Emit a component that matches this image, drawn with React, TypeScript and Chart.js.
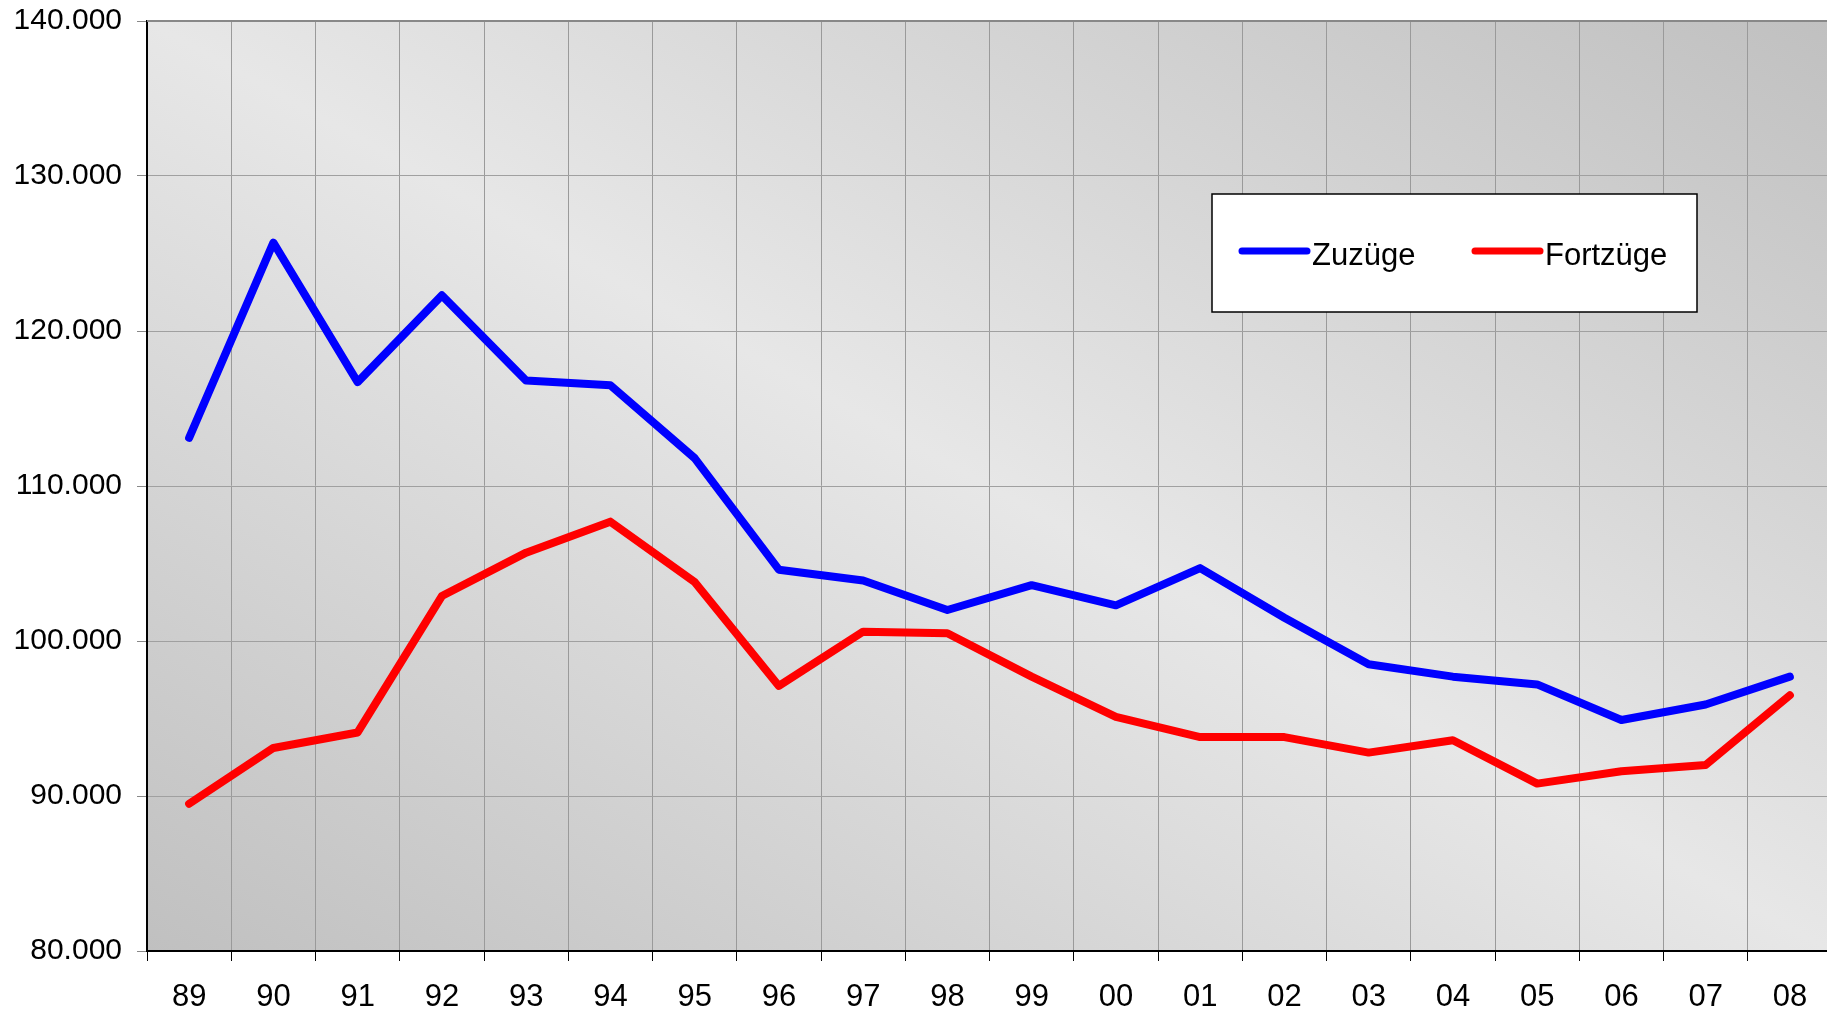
import React, { useEffect, useRef } from "react";
import { Chart, registerables } from "chart.js";

Chart.register(...registerables);

const categories = ["89", "90", "91", "92", "93", "94", "95", "96", "97", "98", "99", "00", "01", "02", "03", "04", "05", "06", "07", "08"];
const zuzuege = [113100, 125700, 116700, 122300, 116800, 116500, 111800, 104600, 103900, 102000, 103600, 102300, 104700, 101500, 98500, 97700, 97200, 94900, 95900, 97700];
const fortzuege = [89500, 93100, 94100, 102900, 105700, 107700, 103800, 97100, 100600, 100500, 97700, 95100, 93800, 93800, 92800, 93600, 90800, 91600, 92000, 96500];
const seriesLabels = ["Zuzüge", "Fortzüge"];
const seriesColors = ["#0000ff", "#ff0000"];
const yMin = 80000;
const yMax = 140000;
const yStep = 10000;

const FONT = "'Liberation Sans', Arial, sans-serif";

function formatDE(v: number): string {
  const s = Math.round(v).toString();
  return s.replace(/\B(?=(\d{3})+(?!\d))/g, ".");
}

const bgPlugin = {
  id: "bgPlugin",
  beforeDraw(chart: any) {
    const { ctx, chartArea } = chart;
    const { left, top, right, bottom } = chartArea;
    const W = right - left;
    const H = bottom - top;
    const cx = left + W / 2;
    const cy = top + H / 2;
    const norm = Math.sqrt(W * W + H * H);
    const dx = H / norm;
    const dy = -W / norm;
    const k = (W * H) / norm;
    const g = ctx.createLinearGradient(cx - k * dx, cy - k * dy, cx + k * dx, cy + k * dy);
    g.addColorStop(0, "#c0c0c0");
    g.addColorStop(0.5, "#e7e7e7");
    g.addColorStop(1, "#c0c0c0");
    ctx.save();
    ctx.fillStyle = g;
    ctx.fillRect(left, top, W, H);
    ctx.restore();
  },
  afterDraw(chart: any) {
    const { ctx, chartArea } = chart;
    ctx.save();
    ctx.strokeStyle = "#888888";
    ctx.lineWidth = 2;
    ctx.beginPath();
    ctx.moveTo(chartArea.left, chartArea.top);
    ctx.lineTo(chartArea.right, chartArea.top);
    ctx.stroke();

    // legend box
    const bx = 1212, by = 194, bw = 485, bh = 118;
    ctx.fillStyle = "#ffffff";
    ctx.fillRect(bx, by, bw, bh);
    ctx.strokeStyle = "#000000";
    ctx.lineWidth = 1.5;
    ctx.strokeRect(bx, by, bw, bh);
    const items = chart.data.datasets.map((d: any) => ({ label: d.label, color: d.borderColor }));
    const itemX = [1242, 1475];
    ctx.font = `31px ${FONT}`;
    ctx.textBaseline = "alphabetic";
    ctx.textAlign = "left";
    items.forEach((it: any, i: number) => {
      const x0 = itemX[i];
      ctx.strokeStyle = it.color;
      ctx.lineWidth = 7;
      ctx.lineCap = "round";
      ctx.beginPath();
      ctx.moveTo(x0, 251);
      ctx.lineTo(x0 + 65, 251);
      ctx.stroke();
      ctx.fillStyle = "#000000";
      ctx.fillText(it.label, x0 + 70, 264.5);
    });
    ctx.restore();
  },
};

export default function App() {
  const ref = useRef<HTMLCanvasElement>(null);
  useEffect(() => {
    if (!ref.current) return;
    const chart = new Chart(ref.current, {
      type: "line",
      data: {
        labels: categories,
        datasets: [
          {
            label: seriesLabels[0],
            data: zuzuege,
            borderColor: seriesColors[0],
            backgroundColor: seriesColors[0],
            borderWidth: 8,
            pointRadius: 0,
            tension: 0,
            borderJoinStyle: "round",
            borderCapStyle: "round",
          },
          {
            label: seriesLabels[1],
            data: fortzuege,
            borderColor: seriesColors[1],
            backgroundColor: seriesColors[1],
            borderWidth: 8,
            pointRadius: 0,
            tension: 0,
            borderJoinStyle: "round",
            borderCapStyle: "round",
          },
        ],
      },
      options: {
        responsive: false,
        animation: false,
        layout: { padding: { top: 21, right: 8, left: 0, bottom: 0 } },
        plugins: {
          legend: { display: false },
          tooltip: { enabled: false },
        },
        scales: {
          x: {
            offset: true,
            grid: {
              offset: true,
              color: "#9a9a9a",
              lineWidth: 1,
              tickLength: 10,
              tickColor: "#000000",
            },
            border: { color: "#000000", width: 2 },
            ticks: {
              color: "#000000",
              font: { family: FONT, size: 31 },
              padding: 18,
              maxRotation: 0,
              autoSkip: false,
            },
            afterFit(scale: any) {
              scale.height = 63;
              scale.paddingLeft = 0;
              scale.paddingRight = 0;
            },
          },
          y: {
            min: yMin,
            max: yMax,
            ticks: {
              stepSize: yStep,
              color: "#000000",
              font: { family: FONT, size: 30 },
              padding: 15,
              callback: (v: any) => formatDE(Number(v)),
            },
            grid: {
              color: "#a0a0a0",
              lineWidth: 1,
              tickLength: 10,
              tickColor: "#888888",
            },
            border: { color: "#000000", width: 2 },
            afterFit(scale: any) {
              scale.width = 147;
              scale.paddingTop = 0;
              scale.paddingBottom = 0;
            },
          },
        },
      },
      plugins: [bgPlugin],
    });
    return () => chart.destroy();
  }, []);
  return (
    <div style={{ position: "fixed", left: 0, top: 0, width: 1827, height: 1014, overflow: "hidden", background: "#fff" }}>
      <canvas ref={ref} width={1840} height={1014} style={{ display: "block", width: 1840, height: 1014 }} />
    </div>
  );
}
